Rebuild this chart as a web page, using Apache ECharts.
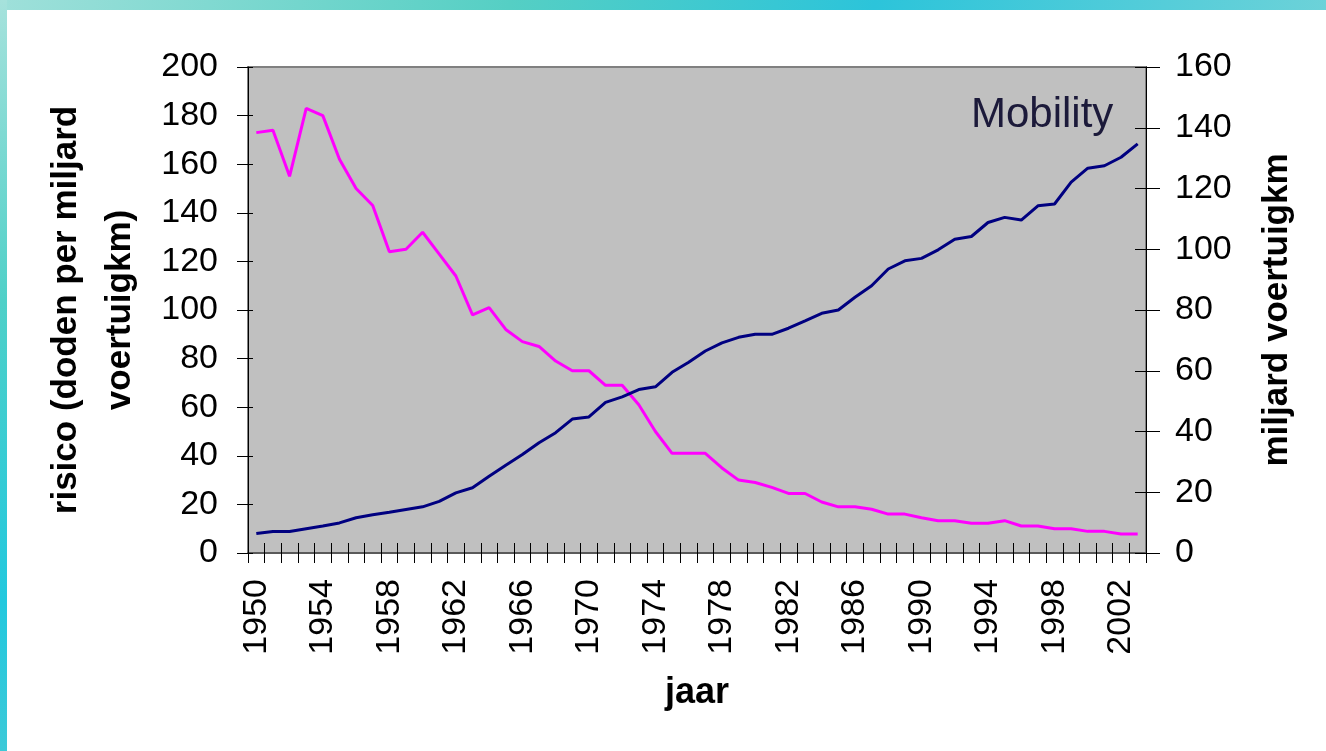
<!DOCTYPE html>
<html>
<head>
<meta charset="utf-8">
<script src="https://cdn.jsdelivr.net/npm/echarts@6/dist/echarts.min.js"></script>
<style>
  html, body { margin: 0; padding: 0; width: 1326px; height: 751px; overflow: hidden; }
  body { background: linear-gradient(100deg, #9fe0da 0%, #55cfc4 35%, #2cc4da 60%, #7fd6d8 100%); position: relative; }
  #paper { position: absolute; left: 7px; top: 10px; right: 0; bottom: 0; background: #ffffff; }
  #left-strip { position: absolute; left: 0; top: 0; width: 7px; height: 751px; background: linear-gradient(180deg, #a6e2dc 0%, #4fd0c8 40%, #22c8de 80%, #3cc9d8 100%); }
  #chart { position: absolute; left: 0; top: 0; width: 1326px; height: 751px; }
</style>
</head>
<body>
<div id="left-strip"></div>
<div id="paper"></div>
<div id="chart"></div>
<script>
const years = [1950,1951,1952,1953,1954,1955,1956,1957,1958,1959,1960,1961,1962,1963,1964,1965,1966,1967,1968,1969,1970,1971,1972,1973,1974,1975,1976,1977,1978,1979,1980,1981,1982,1983,1984,1985,1986,1987,1988,1989,1990,1991,1992,1993,1994,1995,1996,1997,1998,1999,2000,2001,2002,2003];
// risico (doden per miljard voertuigkm) - left axis
const risico = [173,174,155,183,180,162,150,143,124,125,132,123,114,98,101,92,87,85,79,75,75,69,69,61,50,41,41,41,35,30,29,27,24.5,24.5,21,19,19,18,16,16,14.5,13.3,13.3,12.2,12.2,13.3,11.1,11.1,10,10,8.9,8.9,7.8,7.8];
// miljard voertuigkm - right axis
const mobiliteit = [6.4,7.1,7.1,8.0,8.9,9.9,11.6,12.6,13.4,14.3,15.2,17.0,19.8,21.5,25.3,28.9,32.4,36.3,39.6,44.1,44.8,49.6,51.4,53.8,54.7,59.5,62.8,66.5,69.2,71,72,72,74,76.4,78.9,80,84.2,88,93.5,96.2,97,99.8,103.3,104.2,108.8,110.5,109.6,114.3,114.9,122.1,126.7,127.5,130.3,134.7];
const leftTicks = { min: 0, max: 200, interval: 20 };
const rightTicks = { min: 0, max: 160, interval: 20 };

const chart = echarts.init(document.getElementById('chart'), null, { renderer: 'canvas' });
const labelFont = { fontFamily: 'Liberation Sans, Arial, sans-serif', fontSize: 34, color: '#000000' };
const nameFont = { fontFamily: 'Liberation Sans, Arial, sans-serif', fontSize: 35, fontWeight: 'bold', color: '#000000' };

chart.setOption({
  backgroundColor: 'transparent',
  animation: false,
  title: {
    text: 'Mobility',
    left: 966, top: 89,
    textStyle: { fontFamily: 'Liberation Sans, Arial, sans-serif', fontSize: 42, fontWeight: 'normal', color: '#1c1a3a' }
  },
  grid: {
    left: 248, right: 180, top: 67, bottom: 198,
    show: true, backgroundColor: '#c0c0c0', borderColor: '#808080', borderWidth: 2
  },
  xAxis: [{
    type: 'category', data: years, position: 'bottom', boundaryGap: true,
    axisLine: { show: true, lineStyle: { color: '#5a5a5a', width: 2 } },
    axisTick: { show: true, inside: false, length: 10, interval: 0, lineStyle: { color: '#000', width: 1 } },
    axisLabel: Object.assign({ interval: 3, rotate: 90, margin: 26 }, labelFont),
    splitLine: { show: false },
    name: 'jaar', nameLocation: 'middle', nameGap: 122,
    nameTextStyle: Object.assign({}, nameFont, { fontSize: 36 })
  }, {
    type: 'category', data: years, position: 'bottom', boundaryGap: true,
    axisLine: { show: false },
    axisTick: { show: true, inside: true, length: 10, interval: 0, lineStyle: { color: '#000', width: 1 } },
    axisLabel: { show: false }, splitLine: { show: false }
  }],
  yAxis: [{
    type: 'value', position: 'left', min: leftTicks.min, max: leftTicks.max, interval: leftTicks.interval,
    axisLine: { show: true, lineStyle: { color: '#000', width: 1 } },
    axisTick: { show: true, inside: false, length: 11, lineStyle: { color: '#000', width: 1 } },
    axisLabel: Object.assign({ margin: 30 }, labelFont),
    splitLine: { show: false },
    name: 'risico (doden per miljard\nvoertuigkm)', nameLocation: 'middle', nameRotate: 90, nameGap: 101,
    nameTextStyle: Object.assign({ lineHeight: 54 }, nameFont)
  }, {
    type: 'value', position: 'right', min: rightTicks.min, max: rightTicks.max, interval: rightTicks.interval,
    axisLine: { show: true, lineStyle: { color: '#000', width: 1 } },
    axisTick: { show: true, inside: false, length: 14, lineStyle: { color: '#000', width: 1 } },
    axisLabel: Object.assign({ margin: 29 }, labelFont),
    splitLine: { show: false },
    name: 'miljard voertuigkm', nameLocation: 'middle', nameRotate: 90, nameGap: 114,
    nameTextStyle: nameFont
  }, {
    type: 'value', position: 'left', min: leftTicks.min, max: leftTicks.max, interval: leftTicks.interval,
    axisLine: { show: false },
    axisTick: { show: true, inside: true, length: 5, lineStyle: { color: '#000', width: 1 } },
    axisLabel: { show: false }, splitLine: { show: false }
  }, {
    type: 'value', position: 'right', min: rightTicks.min, max: rightTicks.max, interval: rightTicks.interval,
    axisLine: { show: false },
    axisTick: { show: true, inside: true, length: 11, lineStyle: { color: '#000', width: 1 } },
    axisLabel: { show: false }, splitLine: { show: false }
  }],
  series: [{
    name: 'risico', type: 'line', xAxisIndex: 0, yAxisIndex: 0, data: risico,
    showSymbol: false, symbol: 'none',
    lineStyle: { color: '#ff00ff', width: 3 }, z: 3
  }, {
    name: 'mobiliteit', type: 'line', xAxisIndex: 0, yAxisIndex: 1, data: mobiliteit,
    showSymbol: false, symbol: 'none',
    lineStyle: { color: '#000080', width: 3 }, z: 3
  }]
});
</script>
</body>
</html>
